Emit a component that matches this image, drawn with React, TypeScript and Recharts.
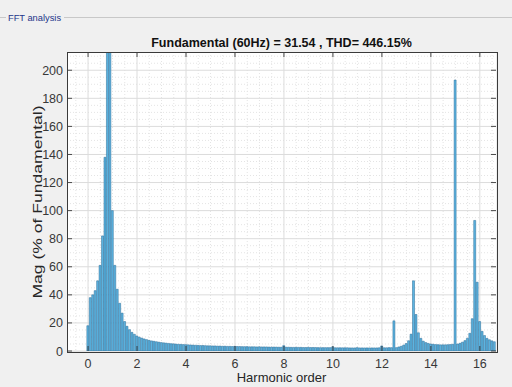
import React from 'react';
import { BarChart, Bar, XAxis, YAxis, CartesianGrid } from 'recharts';

// harmonic order of each FFT bin (6 Hz resolution on a 60 Hz fundamental)
const harmonicOrder = [
  0.0, 0.1, 0.2, 0.3, 0.4, 0.5, 0.6, 0.7, 0.8, 0.9,
  1.0, 1.1, 1.2, 1.3, 1.4, 1.5, 1.6, 1.7, 1.8, 1.9,
  2.0, 2.1, 2.2, 2.3, 2.4, 2.5, 2.6, 2.7, 2.8, 2.9,
  3.0, 3.1, 3.2, 3.3, 3.4, 3.5, 3.6, 3.7, 3.8, 3.9,
  4.0, 4.1, 4.2, 4.3, 4.4, 4.5, 4.6, 4.7, 4.8, 4.9,
  5.0, 5.1, 5.2, 5.3, 5.4, 5.5, 5.6, 5.7, 5.8, 5.9,
  6.0, 6.1, 6.2, 6.3, 6.4, 6.5, 6.6, 6.7, 6.8, 6.9,
  7.0, 7.1, 7.2, 7.3, 7.4, 7.5, 7.6, 7.7, 7.8, 7.9,
  8.0, 8.1, 8.2, 8.3, 8.4, 8.5, 8.6, 8.7, 8.8, 8.9,
  9.0, 9.1, 9.2, 9.3, 9.4, 9.5, 9.6, 9.7, 9.8, 9.9,
  10.0, 10.1, 10.2, 10.3, 10.4, 10.5, 10.6, 10.7, 10.8, 10.9,
  11.0, 11.1, 11.2, 11.3, 11.4, 11.5, 11.6, 11.7, 11.8, 11.9,
  12.0, 12.1, 12.2, 12.3, 12.4, 12.5, 12.6, 12.7, 12.8, 12.9,
  13.0, 13.1, 13.2, 13.3, 13.4, 13.5, 13.6, 13.7, 13.8, 13.9,
  14.0, 14.1, 14.2, 14.3, 14.4, 14.5, 14.6, 14.7, 14.8, 14.9,
  15.0, 15.1, 15.2, 15.3, 15.4, 15.5, 15.6, 15.7, 15.8, 15.9,
  16.0, 16.1, 16.2, 16.3, 16.4, 16.5, 16.6,
];

// magnitude in % of fundamental
const magnitude = [
  18, 38, 40, 43, 50, 61, 82, 138, 320, 260,
  100, 61, 44, 34, 27, 21, 17.6, 15.2, 13.3, 11.9,
  10.7, 9.9, 9.2, 8.6, 8.1, 7.6, 7.2, 6.9, 6.6, 6.3,
  6.0, 5.8, 5.6, 5.4, 5.2, 5.1, 4.9, 4.8, 4.7, 4.6,
  4.5, 4.4, 4.3, 4.2, 4.1, 4.0, 3.9, 3.9, 3.8, 3.7,
  3.7, 3.6, 3.6, 3.5, 3.5, 3.4, 3.4, 3.3, 3.3, 3.2,
  3.3, 3.2, 3.2, 3.1, 3.1, 3.1, 3.0, 3.0, 3.0, 2.9,
  3.0, 2.9, 2.9, 2.9, 2.8, 2.8, 2.8, 2.8, 2.7, 2.7,
  3.8, 2.7, 2.7, 2.6, 2.6, 2.6, 2.6, 2.6, 2.5, 2.5,
  2.6, 2.5, 2.5, 2.5, 2.4, 2.4, 2.4, 2.4, 2.4, 2.4,
  3.0, 2.3, 2.3, 2.3, 2.3, 2.3, 2.3, 2.2, 2.2, 2.2,
  2.4, 2.2, 2.2, 2.2, 2.2, 2.2, 2.2, 2.2, 2.2, 2.3,
  3.6, 2.3, 2.3, 2.4, 2.4, 21.5, 2.4, 2.9, 3.4, 4.2,
  5.3, 7.3, 12, 50, 26, 13, 9, 7, 6, 5.4,
  5.0, 4.8, 4.6, 4.5, 4.4, 4.4, 4.4, 4.5, 4.6, 4.8,
  193, 5.0, 5.5, 6.3, 7.4, 9, 12.6, 23, 93, 49,
  21, 14, 11, 9, 8, 7.2, 6.6,
];

const xTicks = [0, 2, 4, 6, 8, 10, 12, 14, 16];
const yTicks = [0, 20, 40, 60, 80, 100, 120, 140, 160, 180, 200];

const data = harmonicOrder.map((h, i) => ({ h, mag: magnitude[i] }));

// plot box in px
const PL = 67;
const PR = 496;
const PT = 52;
const PB = 351;

const FONT = '"Liberation Sans", Arial, Helvetica, sans-serif';

// minor grid (dotted), every 0.5 harmonic and every 5 %
const xMinor: number[] = [];
for (let v = -0.5; v <= 16.5; v += 0.5) if (v % 2 !== 0) xMinor.push(v);
const yMinor: number[] = [];
for (let v = 5; v <= 210; v += 5) if (v % 20 !== 0) yMinor.push(v);

const XTick = ({ x, payload }: any) => (
  <g>
    <line x1={x} x2={x} y1={PB} y2={PB - 5} stroke="#262626" strokeWidth={0.8} />
    <line x1={x} x2={x} y1={PT} y2={PT + 5} stroke="#262626" strokeWidth={0.8} />
    <text x={x} y={PB + 17} textAnchor="middle" fontSize={12.5} fill="#383838" fontFamily={FONT}>
      {payload.value}
    </text>
  </g>
);

const YTick = ({ y, payload }: any) => (
  <g>
    <line x1={PL} x2={PL + 5} y1={y} y2={y} stroke="#262626" strokeWidth={0.8} />
    <line x1={PR - 5} x2={PR} y1={y} y2={y} stroke="#262626" strokeWidth={0.8} />
    <text x={PL - 4} y={y + 4.5} textAnchor="end" fontSize={12.5} fill="#383838" fontFamily={FONT}>
      {payload.value}
    </text>
  </g>
);

export default function App() {
  return (
    <div
      style={{
        position: 'absolute',
        left: 0,
        top: 0,
        width: 512,
        height: 387,
        background: '#f0f0f0',
        fontFamily: FONT,
        overflow: 'hidden',
      }}
    >
      {/* group box caption */}
      <div style={{ position: 'absolute', left: 0, top: 17, width: 6, borderTop: '1px solid #c8c8c8' }} />
      <div style={{ position: 'absolute', left: 64, top: 17, right: 0, borderTop: '1px solid #c8c8c8' }} />
      <div style={{ position: 'absolute', left: 8, top: 12, fontSize: 9.3, color: '#24358a', lineHeight: '12px' }}>
        FFT analysis
      </div>

      <div
        style={{
          position: 'absolute',
          left: PL,
          width: PR - PL,
          top: 35,
          textAlign: 'center',
          fontSize: 12.5,
          fontWeight: 'bold',
          color: '#111',
          lineHeight: '16px',
          whiteSpace: 'nowrap',
        }}
      >
        Fundamental (60Hz) = 31.54 , THD= 446.15%
      </div>

      <BarChart
        width={512}
        height={387}
        data={data}
        margin={{ top: PT, right: 512 - PR, bottom: 6, left: 7 }}
        barGap={0}
      >
        <CartesianGrid
          stroke="#e4e4e4"
          strokeDasharray="1 2"
          fill="#ffffff"
          horizontalValues={yMinor}
          verticalValues={xMinor}
        />
        <CartesianGrid stroke="#dcdcdc" fill="none" horizontalValues={yTicks} verticalValues={xTicks} />
        <XAxis
          dataKey="h"
          type="number"
          domain={[-0.86, 16.66]}
          ticks={xTicks}
          allowDataOverflow
          height={30}
          axisLine={false}
          tickLine={false}
          tick={<XTick />}
          interval={0}
        />
        <YAxis
          type="number"
          domain={[0, 213]}
          ticks={yTicks}
          allowDataOverflow
          width={60}
          axisLine={false}
          tickLine={false}
          tick={<YTick />}
          interval={0}
        />
        <Bar
          dataKey="mag"
          barSize={2}
          fill="#5cb4e0"
          stroke="#2a6a96"
          strokeWidth={0.5}
          isAnimationActive={false}
        />
      </BarChart>

      {/* axes box */}
      <div
        style={{
          position: 'absolute',
          left: PL - 0.5,
          top: PT - 0.5,
          width: PR - PL,
          height: PB - PT,
          border: '1px solid #3a3a3a',
          pointerEvents: 'none',
        }}
      />

      <div
        style={{
          position: 'absolute',
          left: 37,
          top: (PT + PB) / 2,
          transform: 'translate(-50%, -50%) rotate(-90deg) scale(1.35, 1)',
          fontSize: 13,
          lineHeight: '15px',
          color: '#262626',
          whiteSpace: 'nowrap',
        }}
      >
        Mag (% of Fundamental)
      </div>

      <div
        style={{
          position: 'absolute',
          left: PL,
          width: PR - PL,
          top: 370,
          textAlign: 'center',
          fontSize: 13,
          color: '#262626',
          lineHeight: '16px',
        }}
      >
        Harmonic order
      </div>
    </div>
  );
}
